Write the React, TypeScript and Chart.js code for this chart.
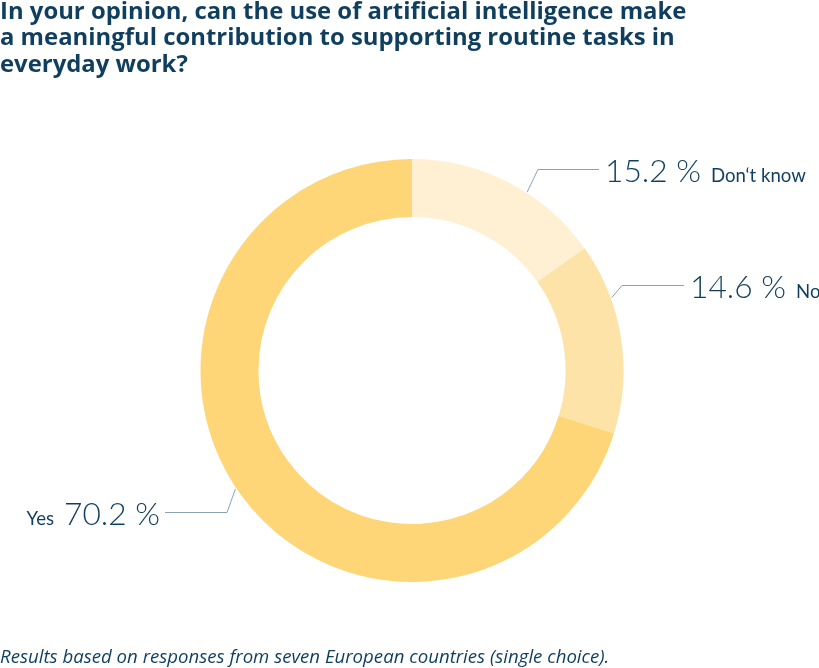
import React, { useEffect, useRef, useState } from "react";
import { Chart, registerables } from "chart.js";

Chart.register(...registerables);

const categories = ["Don\u2018t know", "No", "Yes"];
const values = [15.2, 14.6, 70.2];
const valueLabels = ["15.2 %", "14.6 %", "70.2 %"];
const colors = ["#FFF0D3", "#FDE3A8", "#FED577"];

const titleLines = [
  "In your opinion, can the use of artificial intelligence make",
  "a meaningful contribution to supporting routine tasks in",
  "everyday work?",
];
const footerText =
  "Results based on responses from seven European countries (single choice).";

const TEXT = "#0F3E5E";
const LINE = "#8BA2B4";

// ---- layout / style (not data) ----
const TITLE_FONT = "'Open Sans'";
const TITLE_LINE1_WIDTH = 687;
const TITLE_BASELINES = [19.5, 45.7, 72];
const FOOTER_WIDTH = 610;
const FOOTER_BASELINE = 664;
const BIG_WIDTH_REF = 96; // width of "70.2 %"
const SMALL_WIDTH_REF = 95; // width of "Don't know"

const labelLayout = [
  { frac: 0.6, elbowX: 538, lineY: 169.5, endX: 599, side: "right" },
  { frac: 0.29, elbowX: 622, lineY: 285.5, endX: 684, side: "right" },
  { frac: 0.51, elbowX: 227, lineY: 512.5, endX: 165, side: "left" },
];

let measureCtx: CanvasRenderingContext2D | null = null;
function textWidth(text: string, font: string) {
  if (!measureCtx) measureCtx = document.createElement("canvas").getContext("2d");
  measureCtx!.font = font;
  return measureCtx!.measureText(text).width;
}
function fitSize(text: string, fontPrefix: string, family: string, target: number) {
  const w = textWidth(text, `${fontPrefix} 100px ${family}`);
  return (100 * target) / w;
}

const leaderPlugin = {
  id: "leaders",
  afterDraw(chart: any) {
    const ctx = chart.ctx;
    const meta = chart.getDatasetMeta(0);
    const bigSize = fitSize(valueLabels[2], "300", "Lato", BIG_WIDTH_REF);
    const smallSize = fitSize(categories[0], "400", "Lato", SMALL_WIDTH_REF);
    const bigFont = `300 ${bigSize}px Lato`;
    const smallFont = `400 ${smallSize}px Lato`;
    meta.data.forEach((arc: any, i: number) => {
      const p = arc.getProps(["x", "y", "startAngle", "endAngle", "outerRadius"], true);
      const L = labelLayout[i];
      const a = p.startAngle + L.frac * (p.endAngle - p.startAngle);
      const sx = p.x + Math.cos(a) * (p.outerRadius + 1);
      const sy = p.y + Math.sin(a) * (p.outerRadius + 1);
      ctx.save();
      ctx.strokeStyle = LINE;
      ctx.lineWidth = 1;
      ctx.beginPath();
      ctx.moveTo(sx, sy);
      ctx.lineTo(L.elbowX, L.lineY);
      ctx.lineTo(L.endX, L.lineY);
      ctx.stroke();
      const base = L.lineY + 12;
      ctx.fillStyle = TEXT;
      ctx.textBaseline = "alphabetic";
      if (L.side === "right") {
        ctx.font = bigFont;
        ctx.textAlign = "left";
        const x0 = L.endX + 6;
        ctx.fillText(valueLabels[i], x0, base);
        const w = ctx.measureText(valueLabels[i]).width;
        ctx.font = smallFont;
        ctx.fillText(categories[i], x0 + w + 10, base);
      } else {
        ctx.font = bigFont;
        ctx.textAlign = "right";
        const x1 = L.endX - 5;
        ctx.fillText(valueLabels[i], x1, base);
        const w = ctx.measureText(valueLabels[i]).width;
        ctx.font = smallFont;
        ctx.fillText(categories[i], x1 - w - 10, base);
      }
      ctx.restore();
    });
  },
};

export default function App() {
  const ref = useRef<HTMLCanvasElement | null>(null);
  const [sizes, setSizes] = useState<{ title: number; footer: number } | null>(null);

  useEffect(() => {
    setSizes({
      title: fitSize(titleLines[0], "700", TITLE_FONT, TITLE_LINE1_WIDTH),
      footer: fitSize(footerText, "italic 400", TITLE_FONT, FOOTER_WIDTH),
    });
  }, []);

  useEffect(() => {
    if (!ref.current) return;
    const chart = new Chart(ref.current, {
      type: "doughnut",
      data: {
        labels: categories,
        datasets: [
          {
            data: values,
            backgroundColor: colors,
            borderWidth: 0,
            hoverOffset: 0,
          },
        ],
      },
      options: {
        animation: false,
        responsive: false,
        cutout: "72.6%",
        layout: { padding: { left: 200.5, right: 195.5, top: 159, bottom: 86 } },
        plugins: {
          legend: { display: false },
          tooltip: { enabled: false },
          title: { display: false },
        },
        events: [],
      },
      plugins: [leaderPlugin],
    });
    return () => chart.destroy();
  }, []);

  // Open Sans: with line-height 1, baseline sits ~0.888em below the box top
  const baseOff = (s: number) => 0.888 * s;

  return (
    <div
      style={{
        position: "absolute",
        left: 0,
        top: 0,
        width: 819,
        height: 668,
        overflow: "hidden",
        background: "#fff",
      }}
    >
      <canvas ref={ref} width={819} height={668} style={{ position: "absolute", left: 0, top: 0 }} />
      {sizes &&
        titleLines.map((l, i) => (
          <div
            key={i}
            style={{
              position: "absolute",
              left: 0,
              top: TITLE_BASELINES[i] - baseOff(sizes.title),
              fontFamily: TITLE_FONT,
              fontWeight: 700,
              fontSize: sizes.title,
              lineHeight: 1,
              color: TEXT,
              whiteSpace: "nowrap",
            }}
          >
            {l}
          </div>
        ))}
      {sizes && (
        <div
          style={{
            position: "absolute",
            left: 0,
            top: FOOTER_BASELINE - baseOff(sizes.footer),
            fontFamily: TITLE_FONT,
            fontStyle: "italic",
            fontSize: sizes.footer,
            lineHeight: 1,
            color: TEXT,
            whiteSpace: "nowrap",
          }}
        >
          {footerText}
        </div>
      )}
    </div>
  );
}
